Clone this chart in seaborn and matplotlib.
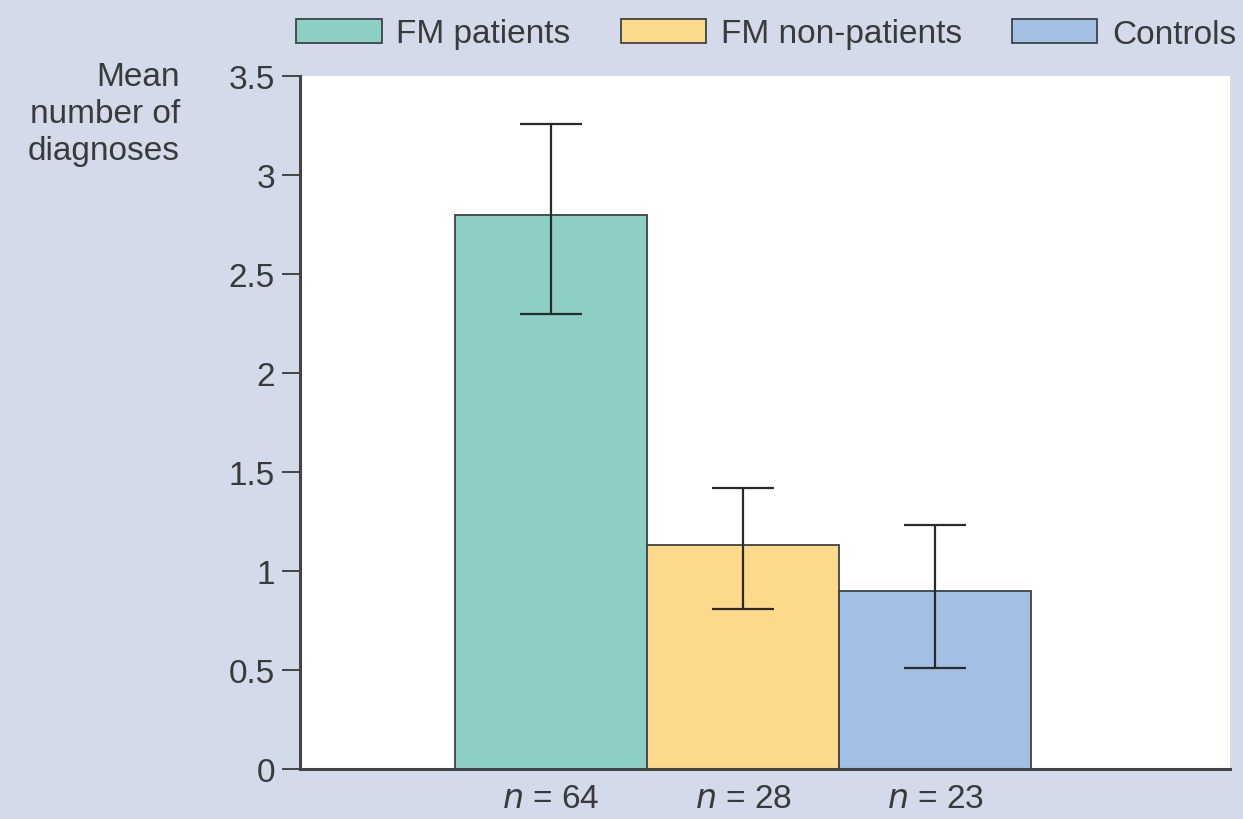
import matplotlib
matplotlib.use("Agg")
import matplotlib.pyplot as plt
import seaborn as sns
import pandas as pd
from matplotlib.patches import Patch

groups = ["FM patients", "FM non-patients", "Controls"]
means = [2.80, 1.13, 0.90]
err_low = [2.30, 0.81, 0.51]
err_high = [3.26, 1.42, 1.23]
n_labels = ["64", "28", "23"]
yticks = [0, 0.5, 1, 1.5, 2, 2.5, 3, 3.5]
ytick_labels = ["0", "0.5", "1", "1.5", "2", "2.5", "3", "3.5"]
colors = ["#8ecfc5", "#fdd98b", "#a3bfe3"]

sns.set_theme(style="white")
plt.rcParams["font.family"] = ["Liberation Sans", "DejaVu Sans"]
txt_color = "#3a3a3a"
bg = "#d3dbea"
fs = 24

fig = plt.figure(figsize=(12.43, 8.2), dpi=100)
fig.patch.set_facecolor(bg)
ax = fig.add_axes([0.2414, 0.0610, 0.9895 - 0.2414, 0.9061 - 0.0610])
ax.set_facecolor("white")

df = pd.DataFrame({"group": groups, "mean": means})
sns.barplot(data=df, x="group", y="mean", hue="group", palette=colors, saturation=1,
            width=1.0, edgecolor="#3e4444", linewidth=1.3, ax=ax, legend=False)

x = list(range(len(groups)))
yerr = [[m - l for m, l in zip(means, err_low)], [h - m for m, h in zip(means, err_high)]]
ax.errorbar(x, means, yerr=yerr, fmt="none", ecolor="#2a2a2a", elinewidth=1.6,
            capsize=22, capthick=1.6, zorder=5)

ax.set_xlim(-1.307, 3.536)
ax.set_ylim(0, 3.5)
ax.set_yticks(yticks)
ax.set_yticklabels(ytick_labels)
ax.set_xticks(x)
ax.set_xticklabels([r"$\it{n}$ = " + v for v in n_labels])
ax.set_xlabel("")
ax.set_ylabel("")

for s in ["top", "right"]:
    ax.spines[s].set_visible(False)
for s in ["left", "bottom"]:
    ax.spines[s].set_color("#444444")
    ax.spines[s].set_linewidth(2.2)

ax.tick_params(axis="y", direction="out", length=13, width=1.4, color="#444444",
               labelsize=fs, labelcolor=txt_color, pad=5, left=True)
ax.tick_params(axis="x", length=0, labelsize=fs, labelcolor=txt_color, pad=10)

fig.text(180 / 1243, 1 - 62 / 820, "Mean\nnumber of\ndiagnoses", ha="right", va="top",
         fontsize=fs, color=txt_color, linespacing=1.25)

handles = [Patch(facecolor=c, edgecolor="#3e4444", linewidth=1.3) for c in colors]
fig.legend(handles, groups, loc="center right", bbox_to_anchor=(1236 / 1243, 1 - 35 / 820),
           ncol=3, frameon=False, fontsize=fs, labelcolor=txt_color, handlelength=2.56,
           handleheight=0.74, handletextpad=0.44, columnspacing=1.5, borderpad=0,
           borderaxespad=0)

fig.savefig("out.png", dpi=100, facecolor=bg)
